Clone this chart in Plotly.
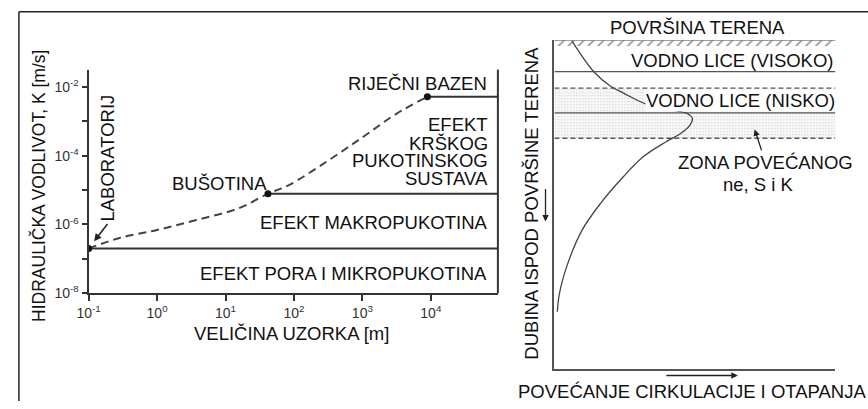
import math
import plotly.graph_objects as go

# ---------------- data: left panel (log-log) ----------------
sample_size_curve = [0.1, 0.29, 1.0, 3.74, 15.5, 41.7, 81.5, 307, 1033, 3133, 8913]
K_curve = [2.0e-7, 4.1e-7, 6.9e-7, 1.35e-6, 2.95e-6, 7.9e-6, 1.35e-5, 6.97e-5, 3.6e-4, 1.67e-3, 5.25e-3]

point_sizes = [0.1, 41.7, 8913]          # laboratorij, bušotina, riječni bazen
point_K = [2.0e-7, 7.9e-6, 5.25e-3]

x_axis_max_log = 4.98
y_axis_range_log = [-8, -1.49]

x_tick_vals = [0.1, 1, 10, 100, 1000, 10000]
x_tick_text = ["10<sup>-1</sup>", "10<sup>0</sup>", "10<sup>1</sup>", "10<sup>2</sup>",
               "10<sup>3</sup>", "10<sup>4</sup>"]
y_tick_vals = [1e-8, 1e-6, 1e-4, 1e-2]
y_tick_text = ["10<sup>-8</sup>", "10<sup>-6</sup>", "10<sup>-4</sup>", "10<sup>-2</sup>"]
y_minor_tick_vals = [1e-7, 1e-5, 1e-3]

# ---------------- data: right panel (schematic depth profile) ----------------
circ_curve = [6.3, 14.0, 20.0, 24.6, 33.3, 41.4, 47.4, 49.1, 48.1, 44.9, 39.6, 31.6,
              24.6, 16.5, 9.8, 4.6, 1.75, 1.05]
depth_curve = [0.3, 9.6, 14.0, 16.1, 19.7, 21.2, 22.4, 23.9, 26.0, 28.4, 31.0, 35.5,
               41.5, 49.6, 57.9, 68.4, 77.3, 82.7]

surface_depth = 0.0
hatch_bottom = 1.8
high_table_depth = 9.55
zone_top_depth = 14.6
low_table_depth = 22.1
zone_bottom_depth = 29.85

W, H = 868, 409
def px(x):
    return x / W
def py(y):
    return 1 - y / H

FONT = "Liberation Sans, Arial, sans-serif"
TXT = "#111111"
LINE = "#333333"
LINE2 = "#555555"

fig = go.Figure()

xmax = 10 ** x_axis_max_log

# horizontal level lines (left)
for xs, k in zip(point_sizes, point_K):
    fig.add_trace(go.Scatter(x=[xs, xmax], y=[k, k], mode="lines",
                             line=dict(color=LINE, width=2), xaxis="x", yaxis="y",
                             hoverinfo="skip", showlegend=False))
# dashed curve
fig.add_trace(go.Scatter(x=sample_size_curve, y=K_curve, mode="lines",
                         line=dict(color="#444444", width=2, dash="8px,5px", shape="spline"),
                         xaxis="x", yaxis="y", showlegend=False))
# points
fig.add_trace(go.Scatter(x=point_sizes, y=point_K, mode="markers",
                         marker=dict(color="#111111", size=7), xaxis="x", yaxis="y",
                         showlegend=False))

# right panel: hatch band
fig.add_trace(go.Scatter(x=[0, 100, 100, 0, 0], y=[surface_depth, surface_depth, hatch_bottom, hatch_bottom, surface_depth],
                         mode="lines", line=dict(width=0), fill="toself", fillcolor="rgba(0,0,0,0)",
                         fillpattern=dict(shape="/", size=7, solidity=0.25, fgcolor="#333333", bgcolor="white"),
                         xaxis="x2", yaxis="y2", showlegend=False, hoverinfo="skip"))
# stippled zone
fig.add_trace(go.Scatter(x=[0, 100, 100, 0, 0], y=[zone_top_depth, zone_top_depth, zone_bottom_depth, zone_bottom_depth, zone_top_depth],
                         mode="lines", line=dict(width=0), fill="toself", fillcolor="rgba(0,0,0,0)",
                         fillpattern=dict(shape=".", size=3, solidity=0.35, fgcolor="#b0b0b0", bgcolor="white"),
                         xaxis="x2", yaxis="y2", showlegend=False, hoverinfo="skip"))
# level lines (right)
for d, dash in [(surface_depth, "solid"), (high_table_depth, "solid"), (zone_top_depth, "5px,3px"),
                (low_table_depth, "solid"), (zone_bottom_depth, "5px,3px")]:
    fig.add_trace(go.Scatter(x=[0, 100], y=[d, d], mode="lines",
                             line=dict(color=LINE2, width=1.3, dash=dash),
                             xaxis="x2", yaxis="y2", showlegend=False, hoverinfo="skip"))
# curve (right)
fig.add_trace(go.Scatter(x=circ_curve, y=depth_curve, mode="lines",
                         line=dict(color="#444444", width=1.3, shape="spline"),
                         xaxis="x2", yaxis="y2", showlegend=False))

ann = []
def text(x, y, t, size=18.5, xanchor="center", angle=0, bg=None, pad=1):
    d = dict(x=px(x), y=py(y), xref="paper", yref="paper", text=t, showarrow=False,
             xanchor=xanchor, yanchor="middle", textangle=angle, borderpad=pad,
             font=dict(family=FONT, size=size, color=TXT))
    if bg:
        d["bgcolor"] = bg
        d["borderpad"] = 0
    ann.append(d)

text(27, 190, "HIDRAULIČKA VODLIVOT, K [m/s]", size=17.5, angle=-90)
text(97, 161, "LABORATORIJ", angle=-90)
text(210, 187, "BUŠOTINA")
text(484, 85, "RIJEČNI BAZEN", xanchor="right")
text(484, 127, "EFEKT", xanchor="right", pad=0)
text(484, 146, "KRŠKOG", xanchor="right", pad=0)
text(484, 164, "PUKOTINSKOG", xanchor="right", pad=0)
text(484, 182, "SUSTAVA", xanchor="right", pad=0)
text(484, 227, "EFEKT MAKROPUKOTINA", xanchor="right")
text(484, 279, "EFEKT PORA I MIKROPUKOTINA", xanchor="right")
text(283, 340, "VELIČINA UZORKA [m]")

text(695, 28, "POVRŠINA TERENA")
text(836, 62, "VODNO LICE (VISOKO)", xanchor="right")
text(836, 103, "VODNO LICE (NISKO)", xanchor="right", bg="white")
text(757, 188, "ne, S i K")
text(526.5, 207.5, "DUBINA ISPOD POVRŠINE TERENA", angle=-90)
text(690, 399, "POVEĆANJE CIRKULACIJE I OTAPANJA")

# label with arrow pointing into the stippled zone
ann.append(dict(x=px(753), y=py(132), xref="paper", yref="paper", text="ZONA POVEĆANOG",
                showarrow=True, ax=11, ay=33, arrowhead=2, arrowsize=1, arrowwidth=1.3,
                arrowcolor="#222222", xanchor="center", yanchor="middle",
                font=dict(family=FONT, size=18.5, color=TXT)))

# arrows
ann.append(dict(x=math.log10(point_sizes[0]), y=math.log10(point_K[0]), xref="x", yref="y",
                text="", showarrow=True, ax=20, ay=-26, standoff=9,
                arrowhead=2, arrowsize=1, arrowwidth=1.5, arrowcolor="#222222"))
ann.append(dict(x=px(541), y=py(226), xref="paper", yref="paper", text="", showarrow=True,
                ax=0, ay=-34, arrowhead=2, arrowsize=1, arrowwidth=1.3, arrowcolor="#222222"))
ann.append(dict(x=px(736), y=py(383), xref="paper", yref="paper", text="", showarrow=True,
                ax=-73, ay=0, arrowhead=2, arrowsize=1, arrowwidth=1.3, arrowcolor="#222222"))

shapes = [
    # outer frame (top and left)
    dict(type="line", xref="paper", yref="paper", x0=px(7), x1=1.0, y0=py(12), y1=py(12),
         line=dict(color="#222222", width=1.5)),
    dict(type="line", xref="paper", yref="paper", x0=px(7), x1=px(7), y0=py(12), y1=0,
         line=dict(color="#222222", width=1.5)),
    # right edge of left chart
    dict(type="line", xref="x domain", yref="y domain", x0=1, x1=1, y0=0, y1=1,
         line=dict(color=LINE, width=2)),
]

fig.update_layout(
    width=W, height=H, margin=dict(l=0, r=0, t=0, b=0),
    paper_bgcolor="white", plot_bgcolor="rgba(0,0,0,0)",
    showlegend=False,
    font=dict(family=FONT, color=TXT),
    xaxis=dict(type="log", range=[-1, x_axis_max_log], domain=[px(77.7), px(492.7)], anchor="y",
               showline=True, linecolor=LINE, linewidth=2, ticks="outside", ticklen=6,
               tickwidth=1.5, tickcolor=LINE, tickvals=x_tick_vals, ticktext=x_tick_text,
               showgrid=False, zeroline=False, tickfont=dict(size=14, color="#333333")),
    yaxis=dict(type="log", range=y_axis_range_log, domain=[py(299), py(71)], anchor="x",
               showline=True, linecolor=LINE, linewidth=2, ticks="outside", ticklen=5,
               tickwidth=1.5, tickcolor=LINE, tickvals=y_tick_vals, ticktext=y_tick_text,
               minor=dict(tickvals=y_minor_tick_vals, ticks="outside", ticklen=5,
                          tickwidth=1.5, tickcolor=LINE, showgrid=False),
               showgrid=False, zeroline=False, tickfont=dict(size=14, color="#333333")),
    xaxis2=dict(range=[0, 100], domain=[px(550), px(835)], anchor="y2", showline=True,
                linecolor=LINE2, linewidth=1.5, showticklabels=False, ticks="",
                showgrid=False, zeroline=False),
    yaxis2=dict(range=[100, 0], domain=[py(376), py(41)], anchor="x2", showline=True,
                linecolor=LINE2, linewidth=1.5, showticklabels=False, ticks="",
                showgrid=False, zeroline=False),
    annotations=ann,
    shapes=shapes,
)

fig.write_html("out.html", config={"displayModeBar": False},
               post_script="document.body.style.margin='0';document.body.style.overflow='hidden';")
